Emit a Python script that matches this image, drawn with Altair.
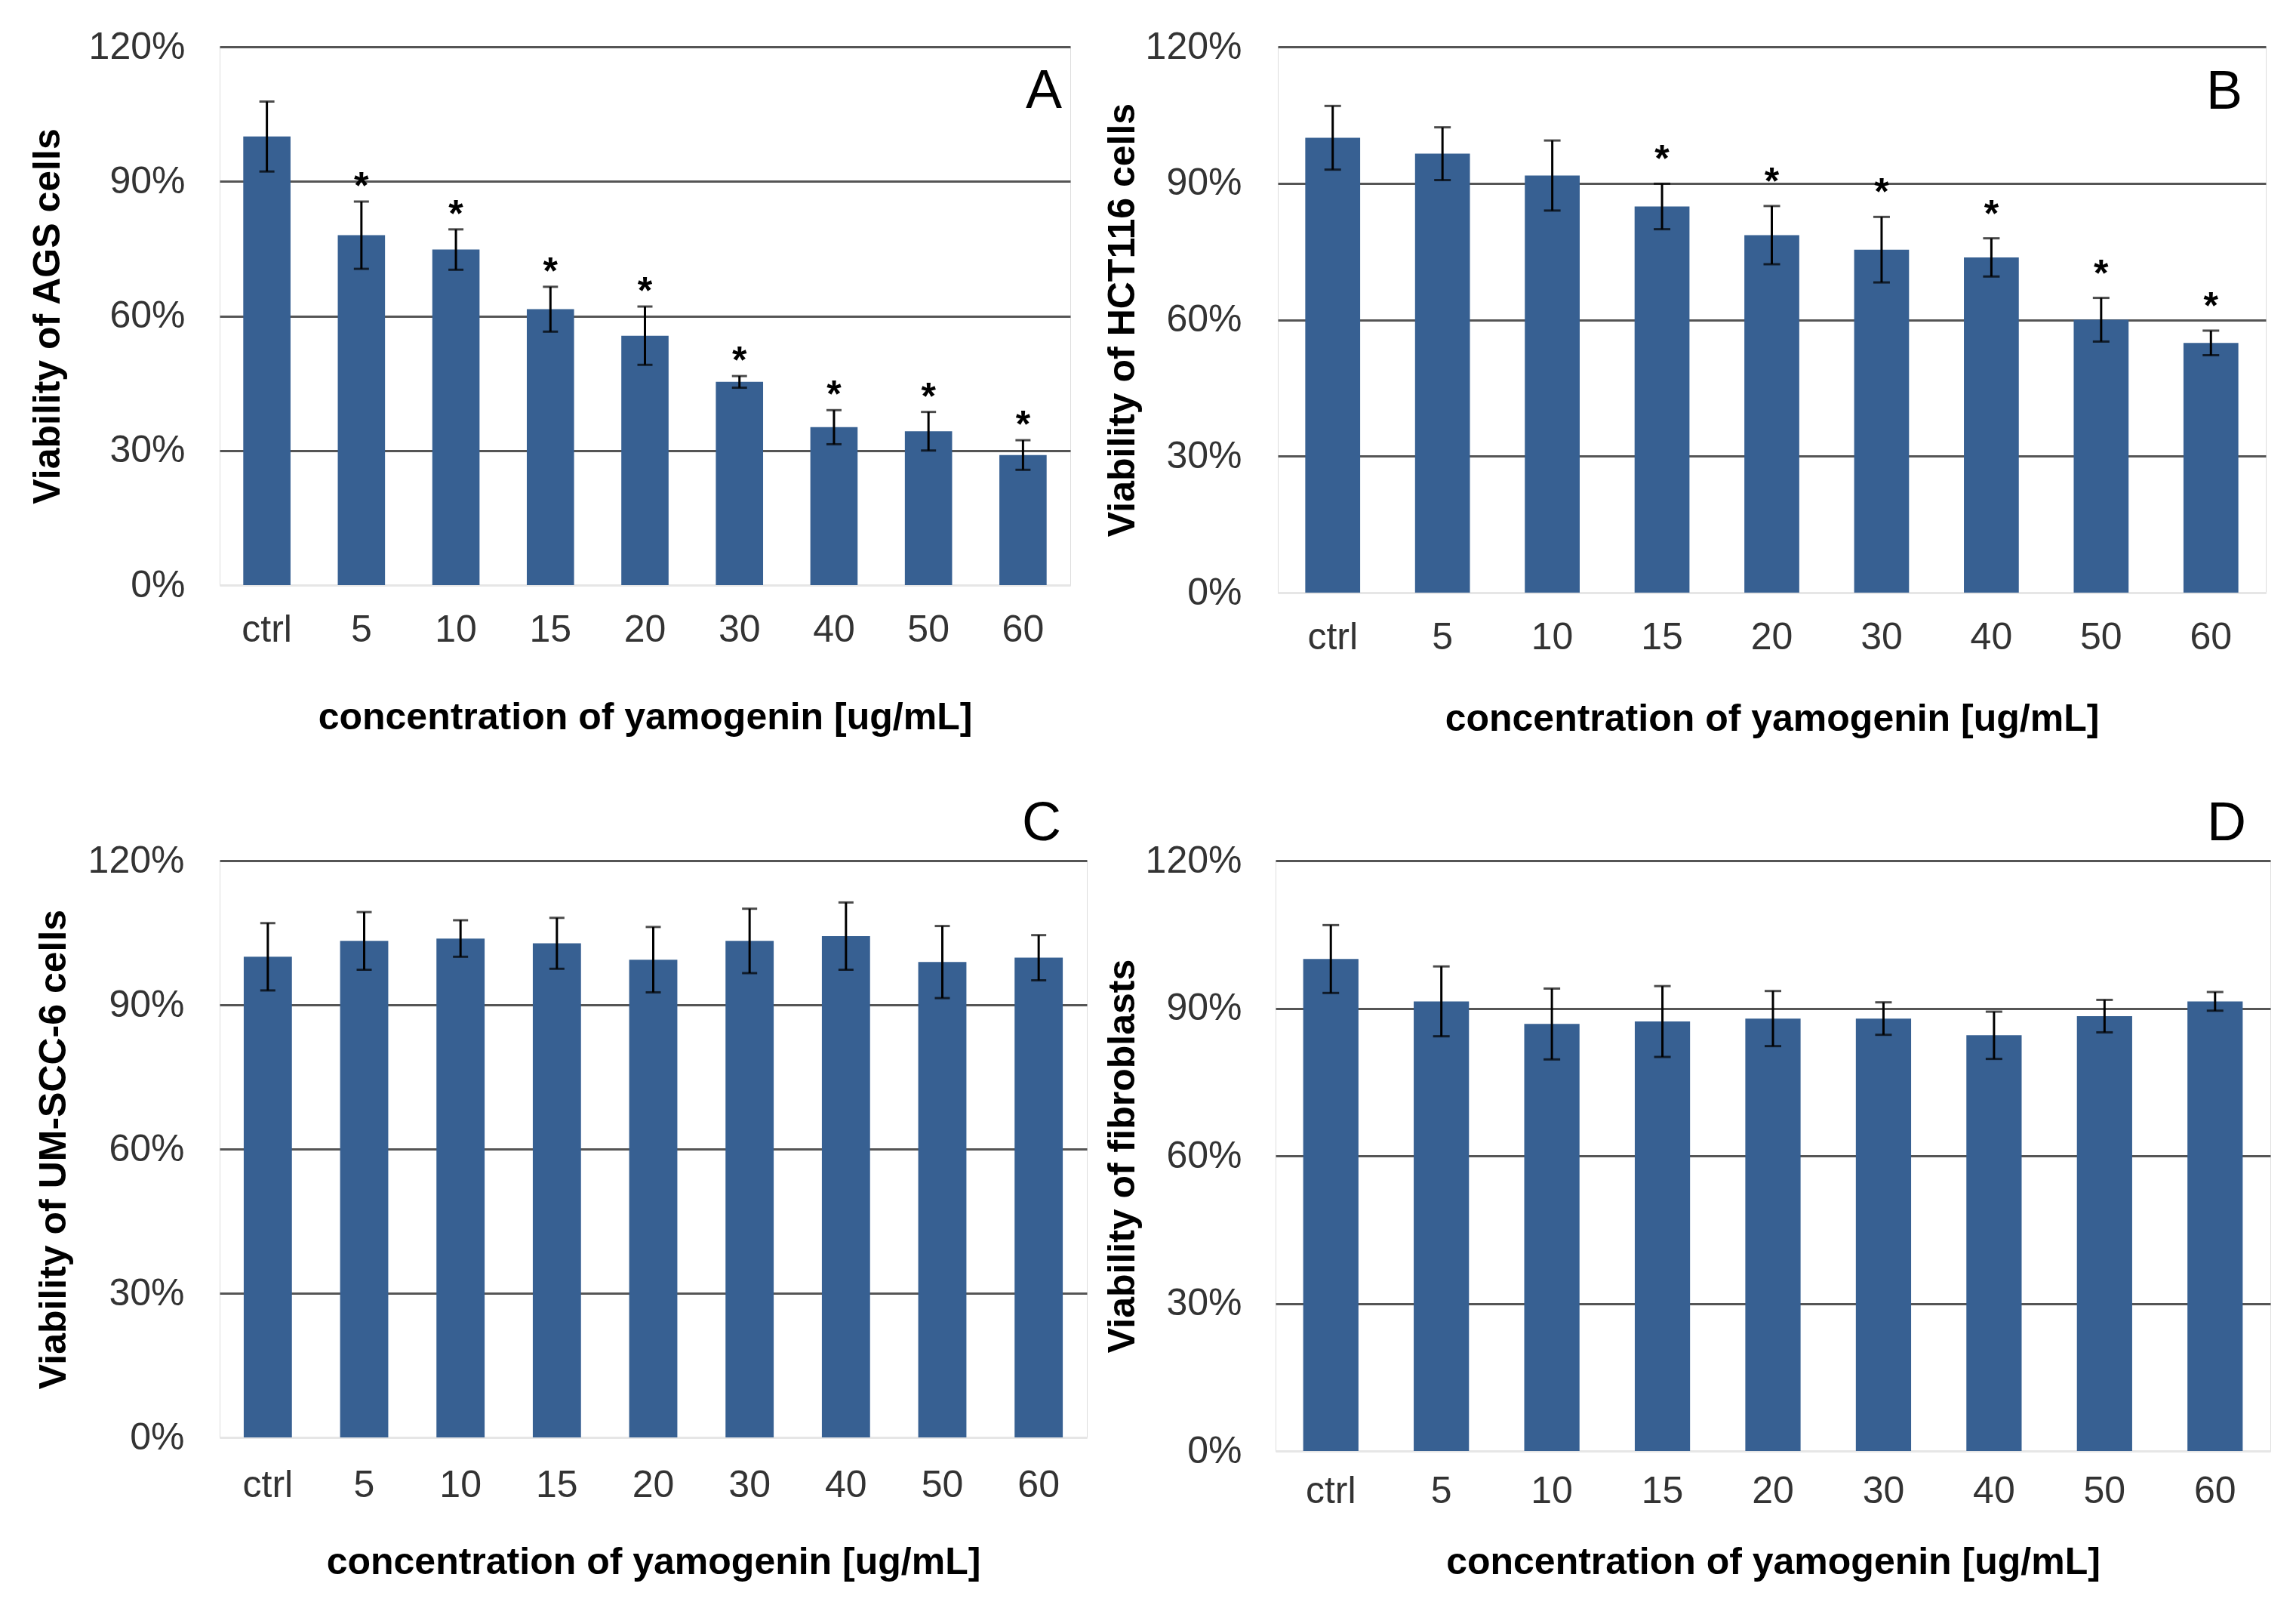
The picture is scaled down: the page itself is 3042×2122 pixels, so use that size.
import altair as alt
import pandas as pd

conc = ["ctrl", "5", "10", "15", "20", "30", "40", "50", "60"]

A_mean = [100, 78.0, 74.8, 61.5, 55.6, 45.3, 35.2, 34.3, 29.0]
A_sd = [7.8, 7.5, 4.5, 5.0, 6.5, 1.3, 3.8, 4.3, 3.3]
A_sig = [False, True, True, True, True, True, True, True, True]

B_mean = [100, 96.5, 91.7, 84.9, 78.6, 75.4, 73.7, 60.0, 54.9]
B_sd = [7.0, 5.8, 7.7, 5.0, 6.4, 7.2, 4.2, 4.8, 2.7]
B_sig = [False, False, False, True, True, True, True, True, True]

C_mean = [100, 103.3, 103.8, 102.8, 99.4, 103.3, 104.3, 98.9, 99.8]
C_sd = [7.0, 6.0, 3.8, 5.3, 6.8, 6.7, 7.0, 7.5, 4.7]
C_sig = [False] * 9

D_mean = [100, 91.4, 86.8, 87.3, 87.9, 87.9, 84.5, 88.4, 91.4]
D_sd = [6.9, 7.1, 7.2, 7.2, 5.6, 3.3, 4.8, 3.3, 1.9]
D_sig = [False] * 9

y_ticks = [0, 30, 60, 90, 120]

FONT = "Liberation Sans"
BAR = "#376092"


def panel(mean, sd, sig, ytitle, letter, w, h, lx, ly,
          ylabpad, ytitpad, xlabpad, xtitpad, cap, star_dy):
    df = pd.DataFrame({"conc": conc, "mean": mean, "sd": sd, "sig": sig})
    df["lo"] = df["mean"] - df["sd"]
    df["hi"] = df["mean"] + df["sd"]
    df["star"] = ["*" if s else "" for s in sig]

    x = alt.X("conc:N", sort=conc,
              scale=alt.Scale(paddingInner=0.5, paddingOuter=0.25),
              axis=alt.Axis(title="concentration of yamogenin [ug/mL]",
                            labelAngle=0, ticks=False, domain=True,
                            domainColor="#e6e6e6", domainWidth=2,
                            labelPadding=xlabpad, titlePadding=xtitpad,
                            labelFont=FONT, labelFontSize=50, labelColor="#333333",
                            titleFont=FONT, titleFontSize=50, titleFontWeight="bold",
                            titleColor="#000000", grid=False))
    yscale = alt.Scale(domain=[0, 120], nice=False)
    yaxis = alt.Axis(title=ytitle, values=y_ticks, labelExpr="datum.value + '%'",
                     ticks=False, domain=False, grid=True,
                     gridColor={"condition": {"test": "datum.value === 0", "value": "#e6e6e6"},
                                "value": "#555555"},
                     gridWidth=3,
                     labelPadding=ylabpad, titlePadding=ytitpad,
                     labelFont=FONT, labelFontSize=50, labelColor="#333333",
                     titleFont=FONT, titleFontSize=50, titleFontWeight="bold",
                     titleColor="#000000")

    base = alt.Chart(df)
    bars = base.mark_bar(color=BAR).encode(
        x=x, y=alt.Y("mean:Q", scale=yscale, axis=yaxis))
    err = base.mark_rule(color="#000000", strokeWidth=3).encode(
        x=alt.X("conc:N", sort=conc), y="lo:Q", y2="hi:Q")
    cap_hi = base.mark_tick(color="#000000", size=cap, thickness=3).encode(
        x=alt.X("conc:N", sort=conc), y="hi:Q")
    cap_lo = base.mark_tick(color="#000000", size=cap, thickness=3).encode(
        x=alt.X("conc:N", sort=conc), y="lo:Q")
    stars = base.mark_text(font=FONT, fontSize=50, fontWeight="bold",
                           baseline="alphabetic", dy=star_dy, color="#000000").encode(
        x=alt.X("conc:N", sort=conc), y="hi:Q", text="star:N")
    lab = alt.Chart(pd.DataFrame({"t": [letter]})).mark_text(
        font=FONT, fontSize=72, fontWeight="normal", align="center",
        baseline="middle", color="#000000").encode(
        x=alt.value(lx), y=alt.value(ly), text="t:N")
    return alt.layer(bars, err, cap_hi, cap_lo, stars, lab).properties(width=w, height=h)


pA = panel(A_mean, A_sd, A_sig, "Viability  of  AGS  cells", "A", 1127, 713,
           1127 - 35, 59, 46, 29, 34, 66, 20, -4)
pB = panel(B_mean, B_sd, B_sig, "Viability  of  HCT116  cells", "B", 1309, 723,
           1309 - 55, 60, 48, 5, 34, 58, 22, -16)
pC = panel(C_mean, C_sd, C_sig, "Viability  of UM-SCC-6  cells", "C", 1149, 764,
           1149 - 60, -49, 47, 20, 38, 52, 20, -4)
pD = panel(D_mean, D_sd, D_sig, "Viability  of  fibroblasts", "D", 1318, 782,
           1318 - 58, -49, 45, 5, 28, 44, 22, -4)

row1 = alt.hconcat(pA, pB, spacing=42)
row2 = alt.hconcat(pC, pD, spacing=20)
chart = alt.concat(row1, row2, columns=1, align="none", spacing=76).properties(
    padding={"left": 29, "top": 28, "right": 5, "bottom": 5}
).configure_view(stroke=None).configure(background="#ffffff")

chart.save("out.html", embed_options={"renderer": "svg", "actions": False})
